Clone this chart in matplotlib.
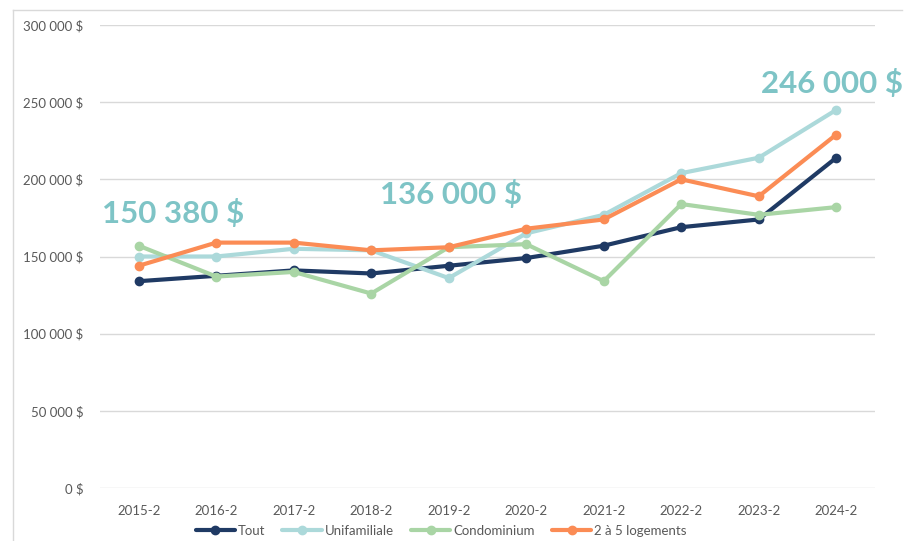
import matplotlib.pyplot as plt
from matplotlib.lines import Line2D
from matplotlib.ticker import FuncFormatter

# data
periods = ['2015-2', '2016-2', '2017-2', '2018-2', '2019-2',
           '2020-2', '2021-2', '2022-2', '2023-2', '2024-2']
tout = [134000, 137500, 141000, 139000, 144000, 149000, 157000, 169000, 174000, 214000]
unifamiliale = [150000, 150000, 155000, 154000, 136000, 165000, 177000, 204000, 214000, 245000]
condominium = [157000, 137000, 140000, 126000, 156000, 158000, 134000, 184000, 177000, 182000]
logements = [144000, 159000, 159000, 154000, 156000, 168000, 174000, 200000, 189000, 229000]

series = [('Tout', tout, '#1f3a64'),
          ('Unifamiliale', unifamiliale, '#acd9da'),
          ('Condominium', condominium, '#a9d5a5'),
          ('2 à 5 logements', logements, '#fb8c55')]

# big callouts: (text, x index, y value)
callouts = [('150 380 $', 0.44, 178000),
            ('136 000 $', 4.03, 190000),
            ('246 000 $', 8.94, 262000)]

plt.rcParams['font.family'] = ['Lato', 'DejaVu Sans']

fig = plt.figure(figsize=(9.08, 5.41), dpi=100)
ax = fig.add_axes([100 / 908, 1 - 488 / 541, 775 / 908, 463 / 541])

x = list(range(len(periods)))
for name, vals, color in series:
    ax.plot(x, vals, color=color, lw=3, marker='o', ms=6, label=name,
            solid_capstyle='round')

ax.set_xlim(-0.5, len(periods) - 0.5)
ax.set_ylim(0, 300000)
ax.set_yticks(range(0, 300001, 50000))
ax.yaxis.set_major_formatter(FuncFormatter(
    lambda v, p: f'{int(v):,} $'.replace(',', ' ')))
ax.set_xticks(x)
ax.set_xticklabels(periods)
ax.tick_params(length=0, labelsize=9.5, colors='#595959')
ax.tick_params(axis='y', pad=12)
ax.tick_params(axis='x', pad=12)
ax.grid(axis='y', color='#d9d9d9', lw=1)
ax.set_axisbelow(True)
for s in ax.spines.values():
    s.set_visible(False)

for txt, xi, yv in callouts:
    ax.text(xi, yv, txt, color='#7ec4c6', fontsize=22.5, fontweight='bold',
            ha='center', va='center', clip_on=False)

ax.legend(loc='center', bbox_to_anchor=(0.44, -0.093), ncol=4,
          frameon=False, fontsize=9.5, labelcolor='#595959',
          handlelength=3, handletextpad=0.2, columnspacing=1.3)

# thin frame lines at top and left of the picture
fig.add_artist(Line2D([13 / 908, 902 / 908], [1 - 10 / 541, 1 - 10 / 541],
                      color='#d9d9d9', lw=1))
fig.add_artist(Line2D([13 / 908, 13 / 908], [0, 1 - 10 / 541],
                      color='#d9d9d9', lw=1))

fig.savefig('out.png', dpi=100)
